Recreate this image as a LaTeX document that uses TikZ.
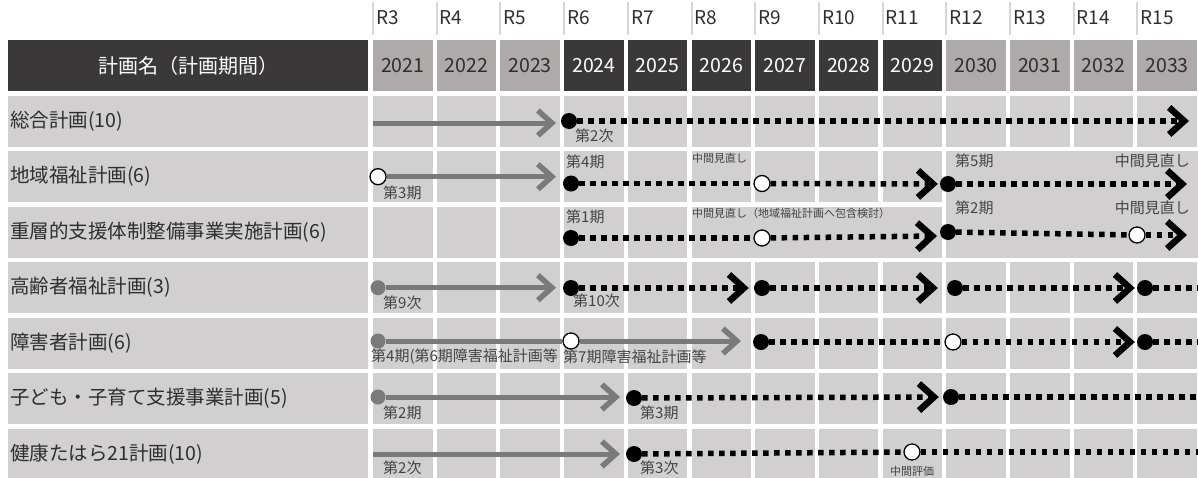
\documentclass[tikz,border=0pt]{standalone}
\usepackage{fontspec}
\setmainfont{Noto Sans CJK JP}
\usetikzlibrary{arrows.meta}

\definecolor{cellbg}{HTML}{D1CFD0}
\definecolor{yrgrey}{HTML}{AEAAA9}
\definecolor{hddark}{HTML}{3B3839}
\definecolor{txtdark}{HTML}{2E2E2E}
\definecolor{txtsmall}{HTML}{444444}
\definecolor{arrgrey}{HTML}{7B7A7A}
\definecolor{rsep}{HTML}{D6D6D6}

\tikzset{
  rlab/.style={anchor=west, inner sep=0pt, text=txtdark, font=\fontsize{19}{19}\selectfont},
  yrcell/.style={minimum width=59.5pt, minimum height=51pt, inner sep=0pt, font=\fontsize{19.5}{19.5}\selectfont},
  yrlight/.style={yrcell, fill=yrgrey, text=txtdark},
  yrdark/.style={yrcell, fill=hddark, text=white},
  rowlab/.style={anchor=west, inner sep=0pt, text=txtdark, font=\fontsize{19.5}{19.5}\selectfont},
  smlab/.style={anchor=west, inner sep=0pt, text=txtsmall, font=\fontsize{15}{15}\selectfont},
  tinylab/.style={anchor=west, inner sep=0pt, text=txtsmall, font=\fontsize{11}{11}\selectfont},
  bdot/.style={circle, fill=black, inner sep=0pt, minimum size=16pt},
  odot/.style={circle, fill=white, draw=black, line width=1.3pt, inner sep=0pt, minimum size=16pt},
  gdot/.style={circle, fill=arrgrey, inner sep=0pt, minimum size=15pt},
  gline/.style={draw=arrgrey, line width=5pt, >={Straight Barb[length=14pt,width=25pt,line width=5.5pt]}},
  bline/.style={draw=black, line width=5.5pt, dash pattern=on 5.5pt off 5.5pt,
                >={Straight Barb[length=15pt,width=27pt,line width=6.5pt]}},
}

\begin{document}
\begin{tikzpicture}[x=1pt, y=-1pt]
\useasboundingbox (0,0) rectangle (1198,477);

% year scale
\foreach \i/\st in {0/yrlight,1/yrlight,2/yrlight,3/yrdark,4/yrdark,5/yrdark,6/yrdark,
                    7/yrdark,8/yrdark,9/yrlight,10/yrlight,11/yrlight,12/yrlight}{
  \pgfmathsetmacro\xl{373+63.7*\i}
  \pgfmathtruncatemacro\rr{\i+3}
  \pgfmathtruncatemacro\yy{\i+2021}
  \draw[rsep, line width=2pt] (\xl,2) -- (\xl,35);
  \node[rlab] (R\rr) at (\xl+3,18) {R\rr};
  \node[\st] (Y\yy) at (\xl+29.75,65.5) {\yy};
}
\node[yrcell, minimum width=360pt, fill=hddark, text=white, font=\fontsize{20}{20}\selectfont] (H) at (188,65.5) {計画名（計画期間）};

% rows
\foreach \k in {0,...,6}{
  \pgfmathsetmacro\yt{95.7+55.5*\k}
  \fill[cellbg] (8,\yt) rectangle ++(360,51);
  \foreach \i in {0,...,12}{
    \fill[cellbg] ({373+63.7*\i},\yt) rectangle ++(59.5,51);
  }
}
\fill[cellbg] (691.5,206.7) rectangle (942.1,257.7);
\fill[cellbg] (946.3,151.2) rectangle (1198,257.7);

\node[rowlab] (N1) at (10,121.2) {総合計画(10)};
\node[rowlab] (N2) at (10,176.7) {地域福祉計画(6)};
\node[rowlab] (N3) at (10,232.2) {重層的支援体制整備事業実施計画(6)};
\node[rowlab] (N4) at (10,287.7) {高齢者福祉計画(3)};
\node[rowlab] (N5) at (10,343.2) {障害者計画(6)};
\node[rowlab] (N6) at (10,398.7) {子ども・子育て支援事業計画(5)};
\node[rowlab] (N7) at (10,454.2) {健康たはら21計画(10)};

% row 1
\coordinate (G1a) at (373,123);
\coordinate (G1b) at (556,123);
\node[bdot] (P1a) at (569,121) {};
\coordinate (E1) at (1189,121);
\draw[gline, ->] (G1a) -- (G1b);
\draw[bline, ->] (P1a) -- (E1);
\node[smlab] (L1a) at (575,136) {第2次};

% row 2
\node[odot] (Q2a) at (378,176.7) {};
\coordinate (G2b) at (556,176.7);
\node[bdot] (P2a) at (571,183.5) {};
\node[odot] (Q2b) at (762,183.5) {};
\node[bdot] (P2b) at (948,184) {};
\coordinate (E2) at (1187,184);
\draw[gline, ->] (Q2a) -- (G2b);
\draw[bline] (P2a) -- (Q2b);
\draw[bline, ->, shorten >=2pt] (Q2b) -- (P2b);
\draw[bline, ->] (P2b) -- (E2);
\node[smlab] (L2a) at (383,193) {第3期};
\node[smlab] (L2b) at (566,162) {第4期};
\node[tinylab] (L2c) at (692,158) {中間見直し};
\node[smlab] (L2d) at (955,161) {第5期};
\node[smlab, anchor=east] (L2e) at (1190,161) {中間見直し};

% row 3
\node[bdot] (P3a) at (571,238) {};
\node[odot] (Q3a) at (762,238) {};
\coordinate (C3) at (937,236);
\node[bdot] (P3b) at (948,232) {};
\node[odot] (Q3b) at (1137,235) {};
\coordinate (E3) at (1187,235);
\draw[bline] (P3a) -- (Q3a);
\draw[bline, ->] (Q3a) -- (C3);
\draw[bline] (P3b) -- (Q3b);
\draw[bline, ->] (Q3b) -- (E3);
\node[smlab] (L3a) at (566,217) {第1期};
\node[tinylab] (L3b) at (692,213) {中間見直し（地域福祉計画へ包含検討）};
\node[smlab] (L3c) at (955,208) {第2期};
\node[smlab, anchor=east] (L3d) at (1190,208) {中間見直し};

% row 4
\node[gdot] (G4a) at (378,287.7) {};
\coordinate (G4b) at (556,287.7);
\node[bdot] (P4a) at (571,288) {};
\node[bdot] (P4b) at (762,288) {};
\node[bdot] (P4c) at (955,288) {};
\node[bdot] (P4d) at (1145,288) {};
\coordinate (E4) at (1198,288);
\draw[gline, ->] (G4a) -- (G4b);
\draw[bline, ->, shorten >=5pt] (P4a) -- (P4b);
\draw[bline, ->, shorten >=9pt] (P4b) -- (P4c);
\draw[bline, ->, shorten >=2pt] (P4c) -- (P4d);
\draw[bline] (P4d) -- (E4);
\node[smlab] (L4a) at (383,303) {第9次};
\node[smlab] (L4b) at (573,301) {第10次};

% row 5
\node[gdot] (G5a) at (378,341) {};
\node[odot] (Q5a) at (571,341) {};
\coordinate (G5b) at (741,341);
\node[bdot] (P5a) at (761,342) {};
\node[odot] (Q5b) at (953,342) {};
\node[bdot] (P5b) at (1145,342) {};
\coordinate (E5) at (1198,342);
\draw[gline] (G5a) -- (Q5a);
\draw[gline, ->] (Q5a) -- (G5b);
\draw[bline] (P5a) -- (Q5b);
\draw[bline, ->, shorten >=2pt] (Q5b) -- (P5b);
\draw[bline] (P5b) -- (E5);
\node[smlab] (L5a) at (371,357) {第4期(第6期障害福祉計画等};
\node[smlab] (L5b) at (563,357) {第7期障害福祉計画等};

% row 6
\node[gdot] (G6a) at (378,397) {};
\coordinate (G6b) at (620,397);
\node[bdot] (P6a) at (634,398) {};
\node[bdot] (P6b) at (951,397) {};
\coordinate (E6) at (1198,397);
\draw[gline, ->] (G6a) -- (G6b);
\draw[bline, ->, shorten >=4pt] (P6a) -- (P6b);
\draw[bline] (P6b) -- (E6);
\node[smlab] (L6a) at (383,413) {第2期};
\node[smlab] (L6b) at (640,413) {第3期};

% row 7
\coordinate (G7a) at (373,454);
\coordinate (G7b) at (620,454);
\node[bdot] (P7a) at (634,454) {};
\node[odot] (Q7a) at (912,452) {};
\coordinate (E7) at (1198,452);
\draw[gline, ->] (G7a) -- (G7b);
\draw[bline] (P7a) -- (Q7a);
\draw[bline] (Q7a) -- (E7);
\node[smlab] (L7a) at (383,468) {第2次};
\node[smlab] (L7b) at (640,468) {第3次};
\node[tinylab, anchor=center] (L7c) at (912,471) {中間評価};

\end{tikzpicture}
\end{document}
